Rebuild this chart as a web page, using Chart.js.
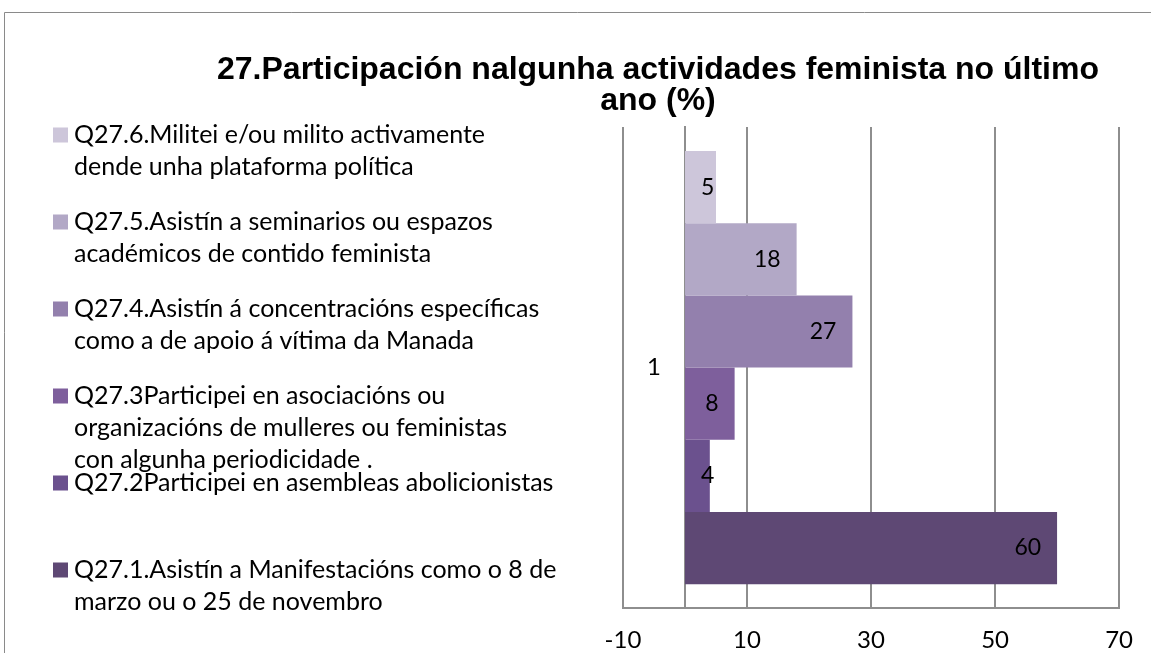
<!DOCTYPE html>
<html><head><meta charset="utf-8">
<script src="https://cdn.jsdelivr.net/npm/chart.js@4.4.1/dist/chart.umd.min.js"></script>
<style>html,body{margin:0;padding:0;background:#fff;overflow:hidden}#wrap{position:relative;width:1151px;height:653px}</style>
</head><body><div id="wrap"><canvas id="c" width="1151" height="653"></canvas></div>
<script>
// ---- data ----
const categories = ['1'];
const titleLines = ['27.Participación nalgunha actividades feminista no último', 'ano (%)'];
const seriesNames = [
  ['Q27.6.Militei e/ou milito activamente', 'dende unha plataforma política'],
  ['Q27.5.Asistín a seminarios ou espazos', 'académicos de contido feminista'],
  ['Q27.4.Asistín á concentracións específicas', 'como a de apoio á vítima da Manada'],
  ['Q27.3Participei en asociacións ou', 'organizacións de mulleres ou feministas', 'con algunha periodicidade .'],
  ['Q27.2Participei en asembleas abolicionistas'],
  ['Q27.1.Asistín a Manifestacións como o 8 de', 'marzo ou o 25 de novembro']
];
const q27_6 = [5];
const q27_5 = [18];
const q27_4 = [27];
const q27_3 = [8];
const q27_2 = [4];
const q27_1 = [60];
const seriesValues = [q27_6, q27_5, q27_4, q27_3, q27_2, q27_1];
const xMin = -10, xMax = 70, xStep = 20;

// ---- style ----
const colors = ['#cdc6da', '#b2a8c6', '#9380ad', '#7e5f9c', '#6b518e', '#5e4874'];
const gridColor = '#8e8e8e';
const textColor = '#000000';
const bodyFont = 'Lato';

const decor = {
  id: 'decor',
  beforeDraw(chart) {
    const ctx = chart.ctx;
    ctx.save();
    ctx.fillStyle = '#fff';
    ctx.fillRect(0, 0, chart.width, chart.height);
    ctx.strokeStyle = '#8a8a8a';
    ctx.lineWidth = 1;
    ctx.beginPath();
    ctx.moveTo(4.5, chart.height);
    ctx.lineTo(4.5, 12.5);
    ctx.lineTo(chart.width, 12.5);
    ctx.stroke();
    ctx.restore();
  },
  afterDatasetsDraw(chart) {
    const ctx = chart.ctx;
    ctx.save();
    ctx.font = '23px ' + bodyFont;
    ctx.fillStyle = textColor;
    ctx.textBaseline = 'middle';
    chart.data.datasets.forEach((ds, i) => {
      const meta = chart.getDatasetMeta(i);
      meta.data.forEach((bar, j) => {
        const txt = String(ds.data[j]);
        const w = ctx.measureText(txt).width;
        let left = bar.x - 16 - w;
        if (left < bar.base + 16) left = bar.base + 16;
        ctx.textAlign = 'left';
        ctx.fillText(txt, left, bar.y);
      });
    });
    // category label next to the category axis (which crosses at x = 0)
    const xs = chart.scales.x, ys = chart.scales.y;
    ctx.font = '24px ' + bodyFont;
    ctx.textAlign = 'right';
    categories.forEach((c, j) => {
      ctx.fillText(c, xs.getPixelForValue(0) - 24, ys.getPixelForValue(j));
    });
    ctx.restore();
  },
  afterDraw(chart) {
    const ctx = chart.ctx;
    ctx.save();
    // title
    ctx.fillStyle = textColor;
    ctx.font = 'bold 32px "Liberation Sans"';
    ctx.textAlign = 'center';
    ctx.textBaseline = 'middle';
    titleLines.forEach((t, k) => ctx.fillText(t, 658, 70 + k * 31));
    // legend
    ctx.font = '25px ' + bodyFont;
    ctx.textAlign = 'left';
    chart.data.datasets.forEach((ds, i) => {
      const y0 = 135 + i * 87;
      ctx.fillStyle = ds.backgroundColor;
      ctx.fillRect(53, y0 - 7.5, 15, 15);
      ctx.fillStyle = textColor;
      ds.label.forEach((line, k) => ctx.fillText(line, 74, y0 + k * 32));
    });
    ctx.restore();
  }
};

new Chart(document.getElementById('c'), {
  type: 'bar',
  data: {
    labels: categories,
    datasets: seriesValues.map((vals, i) => ({
      label: seriesNames[i],
      data: vals,
      backgroundColor: colors[i],
      borderWidth: 0,
      categoryPercentage: 0.9,
      barPercentage: 1.0
    }))
  },
  options: {
    indexAxis: 'y',
    responsive: false,
    animation: false,
    devicePixelRatio: 1,
    layout: { padding: { left: 623, right: 22, top: 127, bottom: -20 } },
    plugins: { legend: { display: false }, tooltip: { enabled: false }, title: { display: false } },
    scales: {
      x: {
        type: 'linear', min: xMin, max: xMax,
        ticks: { stepSize: xStep, color: textColor, font: { family: bodyFont, size: 24 }, padding: 18 },
        grid: { color: gridColor, lineWidth: 2, drawTicks: false },
        border: { color: gridColor, width: 2 }
      },
      y: {
        type: 'category', position: { x: 0 },
        ticks: { display: false },
        grid: { display: false, drawTicks: false },
        border: { color: gridColor, width: 2 }
      }
    }
  },
  plugins: [decor]
});
</script></body></html>
